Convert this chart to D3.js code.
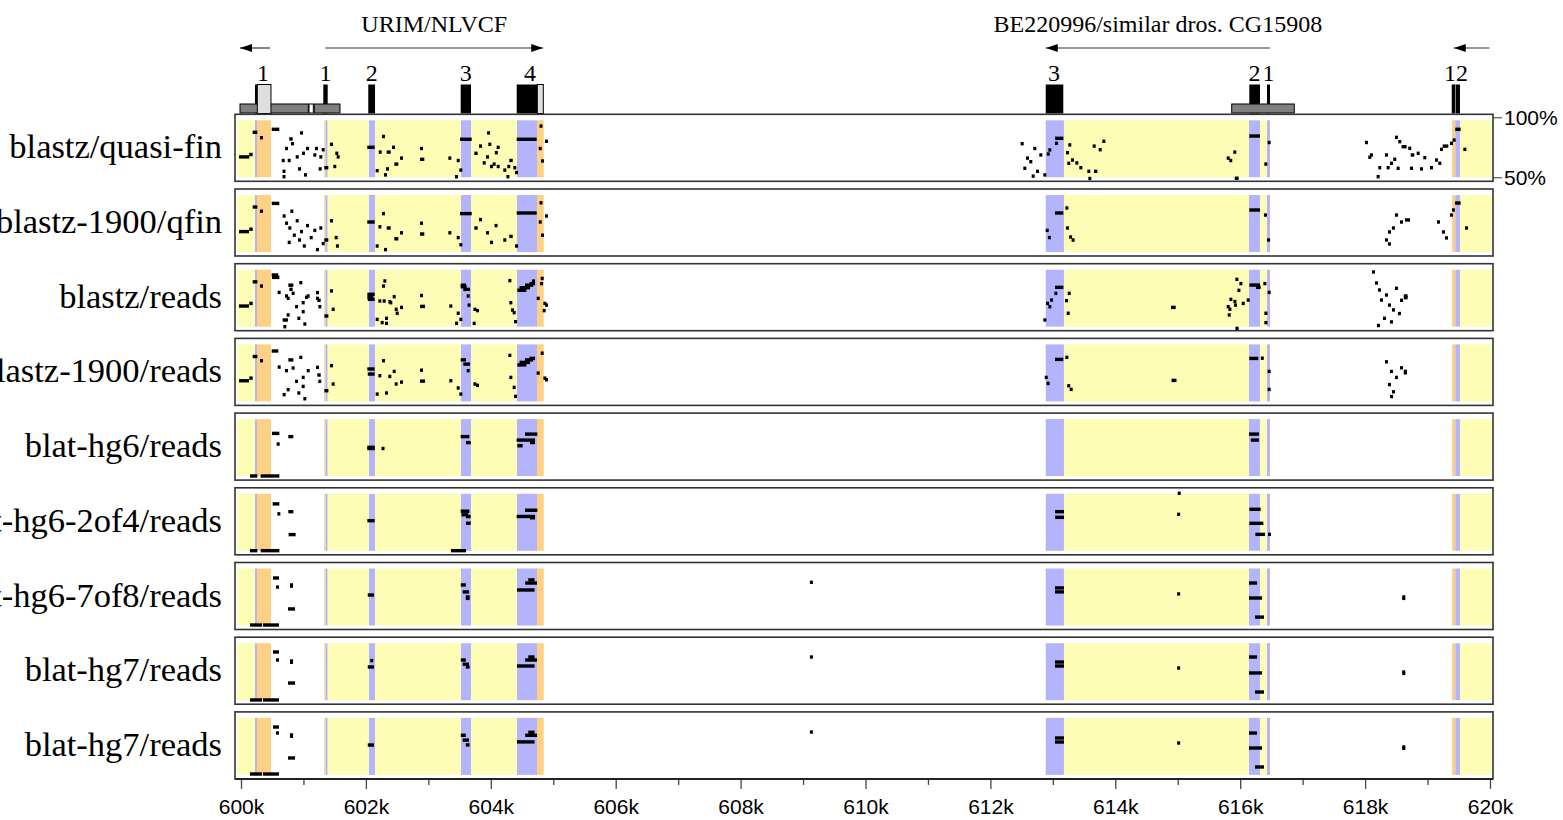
<!DOCTYPE html>
<html>
<head>
<meta charset="utf-8">
<script src="https://cdn.jsdelivr.net/npm/d3@7"></script>
<style>
  body { margin: 0; background: #fff; }
  svg { display: block; }
</style>
</head>
<body>
<script>
// ---------------- data (positions in kb, identity in %) ----------------
var rowLabels = ["blastz/quasi-fin", "blastz-1900/qfin", "blastz/reads", "blastz-1900/reads",
                 "blat-hg6/reads", "blat-hg6-2of4/reads", "blat-hg6-7of8/reads", "blat-hg7/reads", "blat-hg7/reads"];

var axisTicks = [600, 602, 604, 606, 608, 610, 612, 614, 616, 618, 620];
var minorTicks = [601, 603, 605, 607, 609, 611, 613, 615, 617, 619];
var pctTicks = [50, 100];

// background annotation spans: [start, end, kind]
var bandSpans = [
  [599.94, 600.224, "intron"], [600.224, 600.256, "exon"], [600.256, 600.48, "utr"],
  [601.334, 601.356, "utr"], [601.356, 601.388, "exon"], [601.388, 602.05, "intron"],
  [602.05, 602.146, "exon"], [602.146, 603.523, "intron"], [603.523, 603.683, "exon"],
  [603.683, 604.42, "intron"], [604.42, 604.74, "exon"], [604.74, 604.847, "utr"],
  [612.886, 613.178, "exon"], [613.178, 616.141, "intron"], [616.141, 616.317, "exon"],
  [616.317, 616.429, "intron"], [616.429, 616.477, "exon"],
  [619.392, 619.444, "utr"], [619.444, 619.519, "exon"], [619.519, 620.026, "intron"]
];

// gene track
var geneExons = [[600.224, 600.261], [601.318, 601.388], [602.038, 602.146], [603.518, 603.683],
                 [604.415, 604.745], [612.886, 613.167], [616.146, 616.317], [616.429, 616.477],
                 [619.387, 619.445], [619.452, 619.519]];
var geneUtrs = [[600.261, 600.48], [604.745, 604.841]];
var repeats = [[599.984, 601.078, "interspersed"], [601.089, 601.158, "simple"],
               [601.174, 601.585, "interspersed"], [615.864, 616.866, "interspersed"]];
var geneArrows = [[600.464, 599.984, ""], [601.35, 604.84, "URIM/NLVCF"],
                  [616.477, 612.886, "BE220996/similar dros. CG15908"], [619.99, 619.42, ""]];
var exonLabels = [[600.352, "1"], [601.354, "1"], [602.092, "2"], [603.6, "3"], [604.628, "4"],
                  [613.02, "3"], [616.23, "2"], [616.453, "1"], [619.455, "12"]];

// aligned gap-free segments: [start, end, percent identity]
var hitsQuasiFin = [
  [599.968, 600.133, 67], [600.133, 600.187, 69], [600.187, 600.261, 87.5], [600.304, 600.334, 83],
  [600.492, 600.613, 90], [600.773, 600.828, 82], [600.800, 600.830, 78], [600.705, 600.735, 74],
  [600.652, 600.682, 64], [600.748, 600.778, 64], [600.945, 600.975, 87], [600.977, 601.007, 70],
  [601.041, 601.071, 74], [601.185, 601.222, 74], [600.876, 600.906, 67], [600.913, 600.943, 57],
  [601.009, 601.039, 52], [600.665, 600.695, 50.5], [600.665, 600.695, 55], [601.158, 601.188, 68.6],
  [601.254, 601.284, 67], [601.244, 601.274, 57], [601.292, 601.322, 73], [601.334, 601.398, 58],
  [601.425, 601.455, 77.5], [601.532, 601.562, 67], [601.478, 601.508, 59], [601.51, 601.54, 70],
  [602.022, 602.141, 75], [602.205, 602.235, 71], [602.157, 602.187, 55.5], [602.258, 602.288, 84],
  [602.333, 602.397, 71], [602.418, 602.448, 75], [602.455, 602.519, 61], [602.322, 602.352, 57],
  [602.29, 602.32, 52], [602.546, 602.576, 66], [602.866, 602.896, 74], [602.866, 602.935, 65],
  [603.32, 603.363, 66], [603.454, 603.484, 64], [603.427, 603.457, 50.5], [603.496, 603.526, 56],
  [603.507, 603.694, 81.7], [603.736, 603.79, 70], [603.811, 603.841, 76], [603.87, 603.9, 62],
  [603.923, 603.953, 67], [603.96, 603.99, 77.5], [603.987, 604.017, 59], [603.94, 603.97, 87],
  [604.03, 604.067, 61], [604.094, 604.126, 59], [604.064, 604.094, 70.5], [604.094, 604.124, 75],
  [604.2, 604.23, 56], [604.264, 604.294, 59], [604.296, 604.351, 64], [604.36, 604.39, 58],
  [604.388, 604.418, 54], [604.25, 604.28, 50.5], [604.415, 604.735, 81.7], [604.767, 604.797, 74],
  [604.804, 604.841, 63.6], [604.78, 604.81, 92.7], [604.868, 604.898, 80],
  [612.485, 612.515, 78], [612.57, 612.6, 66], [612.623, 612.653, 63], [612.687, 612.717, 74],
  [612.527, 612.557, 57.5], [612.661, 612.691, 51], [612.73, 612.76, 55], [612.783, 612.813, 68.6],
  [612.847, 612.877, 52], [612.902, 612.932, 69.4], [612.927, 612.957, 72.8], [613.034, 613.064, 78.3],
  [613.034, 613.167, 82.5], [613.21, 613.24, 70.5], [613.247, 613.277, 77], [613.231, 613.261, 61.7],
  [613.291, 613.339, 64.4], [613.36, 613.39, 62], [613.424, 613.454, 58], [613.568, 613.598, 49],
  [613.552, 613.582, 55], [613.659, 613.712, 55], [613.638, 613.668, 76], [613.734, 613.764, 73],
  [613.792, 613.822, 80], [615.784, 615.814, 66], [615.825, 615.855, 64], [615.889, 615.919, 71],
  [615.912, 615.976, 49.2], [616.146, 616.317, 84.4], [616.44, 616.47, 79], [616.386, 616.416, 61],
  [617.998, 618.028, 79], [618.078, 618.108, 68.6], [618.051, 618.081, 66.7], [618.211, 618.241, 58],
  [618.185, 618.215, 50.5], [618.318, 618.348, 68.6], [618.398, 618.428, 61.7], [618.451, 618.481, 65],
  [618.505, 618.535, 57.5], [618.345, 618.375, 58], [618.478, 618.508, 83.3], [618.531, 618.561, 79.7],
  [618.585, 618.665, 75.5], [618.691, 618.721, 74.2], [618.73, 618.788, 68.6], [618.826, 618.856, 70],
  [618.932, 618.962, 66.4], [618.879, 618.909, 57], [618.719, 618.749, 57.5], [619.039, 619.069, 58],
  [619.119, 619.149, 64.4], [619.199, 619.229, 73.3], [619.242, 619.332, 76], [619.359, 619.389, 78.3],
  [619.402, 619.432, 81], [619.444, 619.53, 90], [619.573, 619.603, 73.3], [619.172, 619.202, 61.7]
];

var hitsQfin1900 = [
  [599.968, 600.128, 67], [600.133, 600.187, 69], [600.187, 600.261, 87.5], [600.304, 600.334, 84],
  [600.492, 600.613, 90.5], [600.667, 600.697, 80], [600.705, 600.735, 74], [600.758, 600.788, 70],
  [600.748, 600.778, 58], [600.79, 600.82, 84], [600.83, 600.86, 64], [600.876, 600.906, 76],
  [600.913, 600.943, 60], [600.945, 600.975, 67], [600.99, 601.02, 55], [601.041, 601.071, 72],
  [601.1, 601.13, 62], [601.158, 601.188, 68], [601.2, 601.23, 52], [601.254, 601.284, 70],
  [601.292, 601.322, 57], [601.334, 601.398, 60], [601.425, 601.455, 76], [601.5, 601.53, 62],
  [601.52, 601.55, 55], [602.022, 602.141, 75], [602.2, 602.23, 71], [602.157, 602.187, 55],
  [602.258, 602.288, 82], [602.333, 602.397, 70], [602.455, 602.519, 61], [602.29, 602.32, 52],
  [602.546, 602.576, 66], [602.866, 602.896, 74], [602.866, 602.935, 65], [603.32, 603.363, 66],
  [603.454, 603.484, 62], [603.496, 603.526, 56], [603.507, 603.694, 82], [603.736, 603.79, 70],
  [603.811, 603.841, 77], [603.923, 603.953, 66], [603.987, 604.017, 58], [604.06, 604.09, 72],
  [604.2, 604.23, 60], [604.296, 604.351, 63], [604.388, 604.418, 55], [604.415, 604.735, 82.5],
  [604.767, 604.797, 75], [604.804, 604.841, 64], [604.78, 604.81, 91], [604.868, 604.898, 80],
  [612.886, 612.916, 68], [612.92, 612.95, 62], [613.034, 613.167, 82.5], [613.2, 613.23, 86.7],
  [613.21, 613.24, 70], [613.26, 613.29, 62.5], [613.3, 613.33, 60],
  [616.146, 616.317, 85], [616.38, 616.41, 80.8], [616.43, 616.46, 60],
  [618.318, 618.348, 60], [618.366, 618.396, 66.7], [618.43, 618.46, 70], [618.366, 618.396, 56.7],
  [618.478, 618.508, 80.8], [618.559, 618.589, 75], [618.639, 618.719, 76.7], [619.151, 619.181, 75],
  [619.231, 619.261, 66.7], [619.279, 619.309, 61.7], [619.359, 619.389, 80.8], [619.39, 619.42, 85],
  [619.44, 619.53, 90.8], [619.6, 619.63, 70]
];

var hitsReads = [
  [599.968, 600.128, 67.2], [600.133, 600.187, 69.4], [600.187, 600.262, 87.4], [600.304, 600.334, 83.9],
  [600.491, 600.598, 93.1], [600.496, 600.614, 91.1], [600.587, 600.617, 78.6], [600.758, 600.838, 84.6],
  [600.774, 600.827, 81.1], [600.934, 600.964, 86.7], [600.705, 600.735, 75.6], [600.731, 600.761, 73.6],
  [600.811, 600.841, 77.8], [600.865, 600.895, 66.7], [600.972, 601.002, 70], [601.052, 601.082, 75.6],
  [601.025, 601.055, 74.5], [601.201, 601.231, 78.4], [601.201, 601.231, 73.6], [601.222, 601.276, 72],
  [600.972, 601.002, 62.5], [600.731, 600.761, 59.8], [600.902, 600.932, 57], [600.998, 601.028, 52.2],
  [600.667, 600.697, 55.6], [600.705, 600.735, 55.6], [600.678, 600.708, 50], [601.238, 601.268, 66.7],
  [601.335, 601.399, 58.9], [601.425, 601.455, 79.8], [601.452, 601.482, 64.5],
  [602.023, 602.141, 77], [602.023, 602.119, 74.5], [602.03, 602.141, 72.8], [602.157, 602.187, 56.1],
  [602.199, 602.229, 71.4], [602.258, 602.288, 83.9], [602.279, 602.309, 88.1], [602.269, 602.299, 71.4],
  [602.359, 602.389, 70.8], [602.375, 602.405, 70], [602.429, 602.459, 75], [602.461, 602.491, 64.5],
  [602.477, 602.507, 61.2], [602.546, 602.576, 66.1], [602.306, 602.336, 57], [602.306, 602.336, 52.8],
  [602.237, 602.267, 53.4], [602.866, 602.896, 76], [602.866, 602.947, 66.9], [603.336, 603.366, 67.2],
  [603.454, 603.484, 61.2], [603.427, 603.457, 52.8], [603.496, 603.526, 56.1], [603.518, 603.603, 84.6],
  [603.518, 603.614, 83.3], [603.56, 603.667, 81.1], [603.614, 603.644, 75.6], [603.628, 603.658, 68],
  [603.721, 603.751, 64.5], [603.763, 603.793, 63.4], [603.71, 603.74, 52.8], [604.281, 604.311, 88.4],
  [604.297, 604.327, 70], [604.324, 604.354, 63.9], [604.35, 604.38, 61.7], [604.372, 604.402, 54.2],
  [604.425, 604.57, 80.4], [604.46, 604.628, 82.5], [604.548, 604.68, 84.6], [604.62, 604.708, 85.9],
  [604.66, 604.708, 88], [604.735, 604.765, 73.6], [604.799, 604.829, 90.2], [604.789, 604.819, 85.9],
  [604.842, 604.872, 69.4], [604.831, 604.861, 63.4], [604.868, 604.898, 68],
  [612.848, 612.878, 55.6], [612.891, 612.921, 69.4], [612.928, 612.958, 66.7], [612.955, 612.985, 72.2],
  [613.024, 613.054, 77.8], [613.035, 613.168, 82.8], [613.195, 613.225, 71.7], [613.238, 613.268, 77.8],
  [613.222, 613.264, 61.2], [614.892, 614.967, 66.1], [615.784, 615.814, 66.7], [615.827, 615.857, 72.8],
  [615.891, 615.921, 71], [615.901, 615.931, 68], [615.811, 615.841, 64.5], [615.8, 615.83, 59.8],
  [615.987, 616.017, 85.9], [615.923, 615.953, 89.5], [615.955, 615.985, 80.3], [616.024, 616.054, 69.4],
  [616.104, 616.134, 72.2], [615.923, 615.976, 48.6], [616.147, 616.318, 84.7], [616.254, 616.328, 82.8],
  [616.44, 616.47, 78.6], [616.387, 616.417, 61.2], [616.387, 616.417, 53.4], [616.371, 616.401, 85.9],
  [618.11, 618.14, 95.6], [618.158, 618.188, 86.4], [618.206, 618.236, 80.6], [618.238, 618.268, 72.2],
  [618.318, 618.348, 76.4], [618.366, 618.396, 68], [618.286, 618.316, 57], [618.398, 618.428, 54],
  [618.478, 618.508, 82], [618.526, 618.556, 61], [618.559, 618.589, 72], [618.43, 618.46, 64],
  [618.62, 618.68, 75.6], [618.62, 618.68, 74.2], [618.19, 618.22, 51]
];

var hitsReads1900 = [
  [599.968, 600.128, 67.2], [600.133, 600.187, 69.4], [600.187, 600.262, 87.4], [600.304, 600.334, 83.9],
  [600.491, 600.598, 92], [600.587, 600.617, 78.6], [600.758, 600.838, 84.6], [600.934, 600.964, 86.7],
  [600.705, 600.735, 75.6], [600.811, 600.841, 77.8], [600.865, 600.895, 66.7], [600.972, 601.002, 70],
  [601.052, 601.082, 75.6], [601.201, 601.231, 78.4], [601.222, 601.276, 72], [600.972, 601.002, 62.5],
  [600.731, 600.761, 59.8], [600.902, 600.932, 57], [600.998, 601.028, 52.2], [600.667, 600.697, 55.6],
  [601.238, 601.268, 66.7], [601.335, 601.399, 58.9], [601.425, 601.455, 79.8], [601.452, 601.482, 64.5],
  [602.023, 602.141, 77], [602.03, 602.141, 72.8], [602.157, 602.187, 56.1], [602.199, 602.229, 71.4],
  [602.258, 602.288, 83.9], [602.359, 602.389, 70.8], [602.429, 602.459, 75], [602.461, 602.491, 64.5],
  [602.546, 602.576, 66.1], [602.306, 602.336, 57], [602.866, 602.896, 76], [602.866, 602.947, 66.9],
  [603.336, 603.366, 67.2], [603.454, 603.484, 61.2], [603.496, 603.526, 56.1], [603.518, 603.603, 84.6],
  [603.56, 603.667, 81.1], [603.614, 603.644, 75.6], [603.721, 603.751, 64.5], [603.763, 603.793, 63.4],
  [604.281, 604.311, 88.4], [604.297, 604.327, 70], [604.35, 604.38, 61.7], [604.372, 604.402, 54.2],
  [604.425, 604.57, 80.4], [604.46, 604.628, 82.5], [604.548, 604.68, 84.6], [604.62, 604.708, 85.9],
  [604.735, 604.765, 73.6], [604.799, 604.829, 90.2], [604.842, 604.872, 69.4], [604.868, 604.898, 68],
  [612.87, 612.9, 70], [612.9, 612.93, 65], [613.034, 613.167, 85], [613.2, 613.23, 86.7],
  [613.23, 613.26, 63], [613.27, 613.3, 60], [614.9, 614.98, 67.5], [616.146, 616.29, 85.8],
  [616.33, 616.36, 86], [616.44, 616.47, 75], [616.44, 616.47, 60],
  [618.318, 618.348, 83], [618.398, 618.428, 75], [618.478, 618.508, 70], [618.366, 618.396, 64],
  [618.559, 618.589, 78], [618.62, 618.67, 75], [618.62, 618.67, 73.8], [618.43, 618.46, 58], [618.4, 618.43, 54]
];

var hitsHg6 = [
  [600.144, 600.262, 50.1], [600.315, 600.614, 50.1], [600.496, 600.614, 85.6], [600.571, 600.601, 76.7],
  [600.758, 600.838, 82.9], [602.023, 602.141, 74], [602.023, 602.141, 73], [602.25, 602.262, 73],
  [603.518, 603.657, 82.9], [603.603, 603.678, 77.9], [604.548, 604.745, 85], [604.414, 604.708, 80],
  [604.628, 604.708, 78], [604.425, 604.511, 75.3], [616.141, 616.3, 85], [616.17, 616.3, 80]
];

var hitsHg6_2of4 = [
  [600.144, 600.262, 50.1], [600.315, 600.614, 50.1], [600.507, 600.614, 89.1], [600.582, 600.612, 80.8],
  [600.758, 600.838, 82.6], [600.763, 600.875, 63.5], [602.023, 602.141, 75.1], [603.363, 603.603, 50.1],
  [603.518, 603.657, 83], [603.53, 603.64, 80], [603.603, 603.678, 78.5], [603.603, 603.678, 73],
  [604.548, 604.745, 83.8], [604.414, 604.708, 78.6], [604.628, 604.708, 77.5],
  [613.035, 613.179, 82.6], [613.035, 613.179, 77.9], [614.999, 615.014, 97.9], [614.99, 615.02, 80.4],
  [616.147, 616.328, 84.6], [616.147, 616.371, 72.9], [616.243, 616.398, 63.7], [616.445, 616.46, 63.7]
];

var hitsHg6_7of8 = [
  [600.144, 600.336, 50.4], [600.352, 600.608, 50.4], [600.512, 600.608, 89.6], [600.56, 600.59, 82],
  [600.785, 600.815, 83.8], [600.785, 600.815, 82.8], [600.753, 600.865, 63.8], [602.03, 602.13, 75.4],
  [603.52, 603.6, 83.8], [603.55, 603.65, 78], [603.6, 603.66, 73.8], [603.6, 603.66, 72.6],
  [604.42, 604.7, 79.6], [604.55, 604.74, 85.4], [604.6, 604.7, 88], [609.11, 609.125, 86],
  [613.034, 613.178, 81.3], [613.034, 613.178, 78], [614.99, 615.02, 76.3],
  [616.141, 616.27, 85.4], [616.141, 616.35, 72.9], [616.237, 616.381, 57],
  [618.595, 618.64, 73.8], [618.595, 618.64, 72.6]
];

var hitsHg7a = [
  [600.144, 600.336, 50.2], [600.352, 600.608, 50.2], [600.512, 600.608, 90.2], [600.56, 600.59, 83.5],
  [600.785, 600.815, 82.7], [600.785, 600.815, 81.6], [600.753, 600.865, 64.3], [602.03, 602.13, 77.7],
  [602.07, 602.09, 83], [603.52, 603.6, 83.5], [603.55, 603.65, 80], [603.6, 603.66, 77.7],
  [604.42, 604.7, 78.5], [604.55, 604.74, 83.5], [604.6, 604.7, 86], [609.11, 609.125, 86],
  [613.034, 613.178, 81.8], [613.034, 613.178, 78.5], [614.99, 615.02, 76.8],
  [616.141, 616.27, 86], [616.141, 616.35, 72.7], [616.237, 616.381, 56.8],
  [618.595, 618.64, 73.5], [618.595, 618.64, 72.3]
];

var hitsHg7b = [
  [600.144, 600.336, 50.75], [600.352, 600.608, 50.75], [600.512, 600.608, 89.9], [600.56, 600.59, 84.9],
  [600.785, 600.815, 83.3], [600.785, 600.815, 82.2], [600.753, 600.865, 64.1], [602.03, 602.13, 74.9],
  [603.52, 603.6, 83], [603.55, 603.65, 79], [603.6, 603.66, 75],
  [604.42, 604.7, 77.5], [604.55, 604.74, 83], [604.6, 604.7, 85.5], [609.11, 609.125, 85.7],
  [613.034, 613.178, 80.75], [613.034, 613.178, 77.4], [614.99, 615.02, 76.6],
  [616.141, 616.27, 84.9], [616.141, 616.35, 72.4], [616.237, 616.381, 56.6],
  [618.595, 618.64, 73.3], [618.595, 618.64, 72.1]
];

var rowHits = [hitsQuasiFin, hitsQfin1900, hitsReads, hitsReads1900, hitsHg6,
               hitsHg6_2of4, hitsHg6_7of8, hitsHg7a, hitsHg7b];

// ---------------- layout ----------------
var width = 1563, height = 820;
var panelLeft = 235, panelRight = 1493;
var panelTop = 114.3, rowStep = 74.7, panelH = 67;

var bandColor = {intron: "#fdfdb5", exon: "#b4b4fc", utr: "#fdd084"};
var serif = "'Liberation Serif', 'Times New Roman', serif";
var sans = "'Liberation Sans', Arial, sans-serif";

var svg = d3.select("body").append("svg")
    .attr("width", width)
    .attr("height", height);

var x = d3.scaleLinear().domain([600, 620]).range([241, 1490]);

// ---------------- gene track ----------------
svg.append("defs").append("marker")
    .attr("id", "head")
    .attr("viewBox", "0 0 12 8")
    .attr("refX", 12).attr("refY", 4)
    .attr("markerWidth", 12).attr("markerHeight", 8)
    .attr("markerUnits", "userSpaceOnUse")
    .attr("orient", "auto")
    .append("path")
    .attr("d", "M0,0 L12,4 L0,8 Z")
    .attr("fill", "#000");

var gene = svg.append("g");

gene.selectAll("line.arrow")
    .data(geneArrows)
    .enter().append("line")
    .attr("class", "arrow")
    .attr("x1", function (d) { return x(d[0]); })
    .attr("x2", function (d) { return x(d[1]); })
    .attr("y1", 48).attr("y2", 48)
    .attr("stroke", "#333")
    .attr("stroke-width", 1.2)
    .attr("marker-end", "url(#head)");

gene.selectAll("text.gname")
    .data(geneArrows.filter(function (d) { return d[2]; }))
    .enter().append("text")
    .attr("class", "gname")
    .attr("x", function (d) { return (x(d[0]) + x(d[1])) / 2; })
    .attr("y", 32)
    .attr("text-anchor", "middle")
    .style("font-family", serif)
    .style("font-size", "24px")
    .text(function (d) { return d[2]; });

gene.selectAll("text.elab")
    .data(exonLabels)
    .enter().append("text")
    .attr("class", "elab")
    .attr("x", function (d) { return x(d[0]); })
    .attr("y", 81)
    .attr("text-anchor", "middle")
    .style("font-family", serif)
    .style("font-size", "24px")
    .text(function (d) { return d[1]; });

gene.selectAll("rect.exon")
    .data(geneExons)
    .enter().append("rect")
    .attr("class", "exon")
    .attr("x", function (d) { return x(d[0]); })
    .attr("width", function (d) { return x(d[1]) - x(d[0]); })
    .attr("y", 84.5).attr("height", 29)
    .attr("fill", "#000");

gene.selectAll("rect.rep")
    .data(repeats)
    .enter().append("rect")
    .attr("class", "rep")
    .attr("x", function (d) { return x(d[0]); })
    .attr("width", function (d) { return x(d[1]) - x(d[0]); })
    .attr("y", 104).attr("height", 9)
    .attr("fill", function (d) { return d[2] === "simple" ? "#fff" : "#808080"; })
    .attr("stroke", "#000").attr("stroke-width", 1);

gene.selectAll("rect.utr")
    .data(geneUtrs)
    .enter().append("rect")
    .attr("class", "utr")
    .attr("x", function (d) { return x(d[0]); })
    .attr("width", function (d) { return x(d[1]) - x(d[0]); })
    .attr("y", 84.5).attr("height", 29)
    .attr("fill", "#dedede")
    .attr("stroke", "#000").attr("stroke-width", 1);

// ---------------- alignment panels ----------------
rowLabels.forEach(function (label, i) {
    var top = panelTop + i * rowStep;
    var y = d3.scaleLinear().domain([50, 100]).range([top + 63, top + 3]);
    var g = svg.append("g");

    g.append("rect")
        .attr("x", panelLeft).attr("y", top)
        .attr("width", panelRight - panelLeft).attr("height", panelH)
        .attr("fill", "#fff")
        .attr("stroke", "#333").attr("stroke-width", 1.6);

    g.selectAll("rect.band")
        .data(bandSpans)
        .enter().append("rect")
        .attr("class", "band")
        .attr("x", function (d) { return x(d[0]); })
        .attr("width", function (d) { return x(d[1]) - x(d[0]); })
        .attr("y", y(97.5))
        .attr("height", y(50) - y(97.5))
        .attr("fill", function (d) { return bandColor[d[2]]; });

    g.selectAll("rect.hit")
        .data(rowHits[i])
        .enter().append("rect")
        .attr("class", "hit")
        .attr("x", function (d) { return x(d[0]); })
        .attr("width", function (d) { return Math.max(3, x(d[1]) - x(d[0])); })
        .attr("y", function (d) { return y(d[2]) - 1.7; })
        .attr("height", 3.4)
        .attr("fill", "#000");

    g.append("text")
        .attr("x", 222)
        .attr("y", top + 44)
        .attr("text-anchor", "end")
        .style("font-family", serif)
        .style("font-size", "34.5px")
        .text(label);

    // percent scale on the first panel only
    if (i === 0) {
        var pctAxis = g.append("g")
            .attr("transform", "translate(" + panelRight + ",0)")
            .call(d3.axisRight(y).tickValues(pctTicks).tickSize(9).tickPadding(2)
                  .tickFormat(function (d) { return d + "%"; }));
        pctAxis.select(".domain").remove();
        pctAxis.selectAll("text")
            .style("font-family", sans)
            .style("font-size", "21px")
            .attr("fill", "#000");
        pctAxis.selectAll("line").attr("stroke", "#333");
    }
});

// ---------------- position axis ----------------
var axisY = panelTop + 8 * rowStep + panelH;

var xAxis = svg.append("g")
    .attr("transform", "translate(0," + axisY + ")")
    .call(d3.axisBottom(x).tickValues(axisTicks).tickSize(10).tickSizeOuter(0).tickPadding(10)
          .tickFormat(function (d) { return d + "k"; }));
xAxis.select(".domain").remove();
xAxis.selectAll("line").attr("stroke", "#444").attr("stroke-width", 1.3);
xAxis.selectAll("text")
    .style("font-family", sans)
    .style("font-size", "21px")
    .attr("fill", "#000");

var minorAxis = svg.append("g")
    .attr("transform", "translate(0," + axisY + ")")
    .call(d3.axisBottom(x).tickValues(minorTicks).tickSize(6).tickSizeOuter(0).tickFormat(""));
minorAxis.select(".domain").remove();
minorAxis.selectAll("line").attr("stroke", "#444").attr("stroke-width", 1.3);

svg.append("line")
    .attr("x1", panelLeft).attr("x2", panelRight)
    .attr("y1", axisY).attr("y2", axisY)
    .attr("stroke", "#222").attr("stroke-width", 2);
</script>
</body>
</html>
